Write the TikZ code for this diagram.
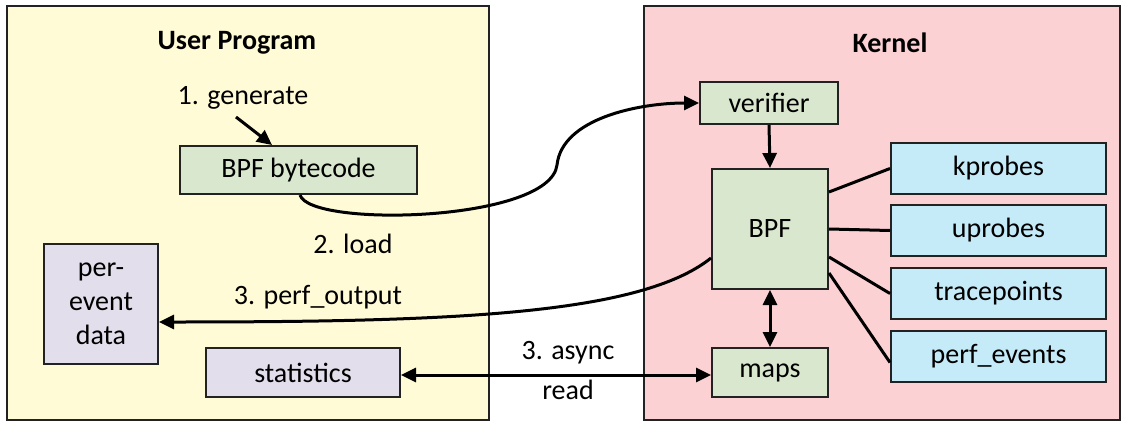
\documentclass[tikz,border=0pt]{standalone}
\usepackage{fontspec}
\setmainfont{Carlito}
\usetikzlibrary{arrows.meta,calc}
\definecolor{userbg}{HTML}{FFFBD7}
\definecolor{kernbg}{HTML}{FCD1D3}
\definecolor{greenbox}{HTML}{D9E7CF}
\definecolor{purplebox}{HTML}{E3DEEC}
\definecolor{bluebox}{HTML}{C5EAF8}
\definecolor{edge}{HTML}{222222}
\begin{document}
\begin{tikzpicture}[x=1pt,y=-1pt,
  every node/.style={font=\fontsize{28}{34}\selectfont, text=black},
  outerbox/.style={draw=edge, line width=1.4pt, inner sep=0pt},
  boxbase/.style={draw=edge, line width=2pt, inner sep=0pt, align=center},
  gbox/.style={boxbase, fill=greenbox},
  pbox/.style={boxbase, fill=purplebox},
  bbox/.style={boxbase, fill=bluebox, minimum width=215pt, minimum height=51pt},
  conn/.style={line width=3pt, draw=black},
  arr/.style={conn, -{Triangle[length=15pt,width=14pt]}},
  darr/.style={conn, {Triangle[length=15pt,width=14pt]}-{Triangle[length=15pt,width=14pt]}},
  title/.style={font=\fontsize{28}{34}\selectfont\bfseries},
  lbl/.style={inner sep=0pt}
]
\useasboundingbox (0,0) rectangle (1126,423);
% containers
\node[outerbox, fill=userbg, minimum width=482pt, minimum height=414pt] (user) at (248,213) {};
\node[outerbox, fill=kernbg, minimum width=476pt, minimum height=414pt] (kern) at (882,213) {};
\node[title] (usertitle) at (237,43) {User Program};
\node[title] (kerntitle) at (890,43) {Kernel};
% user side
\node[gbox, minimum width=237pt, minimum height=48pt] (bytecode) at (298.5,170) {BPF bytecode};
\node[pbox, minimum width=114pt, minimum height=120pt] (perev) at (101,304) {per-\\event\\data};
\node[pbox, minimum width=194pt, minimum height=49pt] (stats) at (303,372.5) {statistics};
\node[lbl] (gen) at (243,98) {1. generate};
\node[lbl] (load) at (353,244) {2. load};
\node[lbl] (perfout) at (318,297) {3. perf\_output};
\node[lbl] (async) at (568,353) {3. async};
\node[lbl] (read) at (568,390) {read};
% kernel side
\node[gbox, minimum width=138pt, minimum height=42pt] (verifier) at (769,103) {verifier};
\node[gbox, minimum width=116pt, minimum height=120pt] (bpf) at (770,229) {BPF};
\node[gbox, minimum width=116pt, minimum height=49pt] (maps) at (770,372.5) {maps};
\node[bbox] (kprobes) at (998.5,168.5) {kprobes};
\node[bbox] (uprobes) at (998.5,230.5) {uprobes};
\node[bbox] (tracep) at (998.5,293.5) {tracepoints};
\node[bbox] (perfev) at (998.5,356.5) {perf\_events};
% connectors
\coordinate (g0) at (236,117);
\coordinate (g1) at (272,145);
\draw[arr] (g0) -- (g1);
\coordinate (bend) at (557,165);
\draw[arr] ($(bytecode.south)+(1.5,0)$) .. controls (310,228) and (550,222) .. (bend)
  .. controls (562,118) and (640,103) .. (verifier.west);
\draw[arr] ($(bpf.west)+(0,29)$) .. controls (640,315) and (450,322) .. ($(perev.east)+(0,18)$);
\draw[darr] ($(stats.east)+(0,2.5)$) -- ($(maps.west)+(0,2.5)$);
\draw[arr] (verifier.south) -- (bpf.north);
\draw[darr] (bpf.south) -- (maps.north);
\draw[conn] ($(bpf.north east)+(0,24)$) -- (kprobes.west);
\draw[conn] (bpf.east) -- (uprobes.west);
\draw[conn] ($(bpf.east)+(0,28)$) -- (tracep.west);
\draw[conn] ($(bpf.east)+(0,44)$) -- ($(perfev.west)+(0,6)$);
\end{tikzpicture}
\end{document}
